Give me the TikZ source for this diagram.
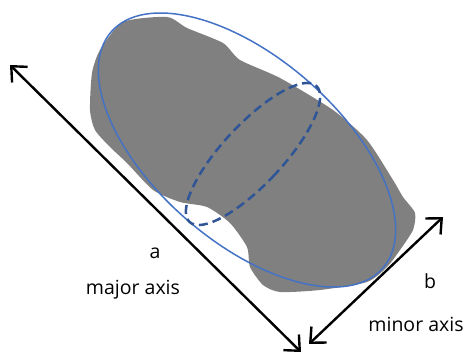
\documentclass[tikz,border=0pt]{standalone}
\usepackage{fontspec}
\setmainfont{Open Sans}
\usepackage{tikz}
\usetikzlibrary{arrows.meta, positioning, calc}
\definecolor{cBlob}{RGB}{128,128,128}
\definecolor{cOuter}{RGB}{68,114,196}
\definecolor{cSection}{RGB}{47,85,151}
\tikzset{
	% particle outline and fitted ellipsoid
	blob/.style    ={fill=cBlob, draw=none},
	outer/.style   ={draw=cOuter, line width=1.5pt},
	section/.style ={draw=cSection, line width=2.5pt, dash pattern=on 9pt off 5pt},
	% dimension arrows and labels
	dimarrow/.style={{Straight Barb[length=12pt, width=22pt]}-{Straight Barb[length=12pt, width=22pt]}, line width=2.4pt},
	lbl/.style     ={font=\fontsize{19.5}{22}\selectfont, inner sep=0pt},
}
\begin{document}
\begin{tikzpicture}[x=1pt, y=-1pt]
			\useasboundingbox (0,0) rectangle (464,356);
			\fill[blob] plot[smooth cycle, tension=0.4] coordinates {(123,22) (167,17) (187,28) (223,43) (240,60) (280,78) (333,110) (367,140) (393,180) (403,197) (415,213) (413,230) (400,250) (387,267) (367,282) (320,290) (280,292) (263,285) (250,267) (247,247) (230,223) (207,207) (180,202) (153,190) (127,163) (110,147) (95,130) (90,110) (92,73) (100,50)};
			\coordinate (c) at (247,150);
			\coordinate (s) at (253,154);
			\draw[outer, rotate around={-41:(c)}] (c) ellipse [x radius=180, y radius=92];
			\draw[section, rotate around={-43:(s)}] (s) ellipse [x radius=30, y radius=93];
			\coordinate (a1) at (10,65);
			\coordinate (a2) at (301,352);
			\coordinate (b1) at (309,344);
			\coordinate (b2) at (443,217);
			\draw[dimarrow] (a1) -- (a2);
			\draw[dimarrow] (b1) -- (b2);
			\node[lbl] (la) at (155,253) {a};
			\node[lbl] (lmajor) at (133,290) {major axis};
			\node[lbl] (lb) at (430,281) {b};
			\node[lbl] (lminor) at (416,324) {minor axis};
		\end{tikzpicture}
\end{document}
